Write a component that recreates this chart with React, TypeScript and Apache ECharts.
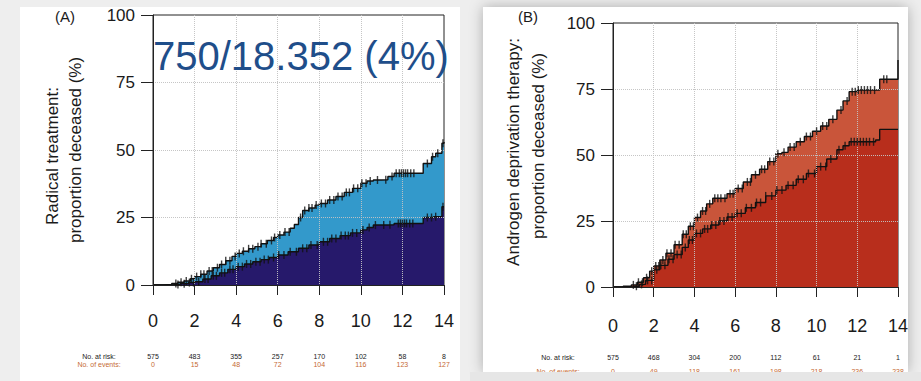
import { useEffect, useRef } from "react";
import * as echarts from "echarts";

// Follow-up years shown on the x axis and under the risk tables
const years = [0, 2, 4, 6, 8, 10, 12, 14];
const yTicks = [0, 25, 50, 75, 100];

// Risk tables
const atRiskA = [575, 483, 355, 257, 170, 102, 58, 8];
const eventsA = [0, 15, 48, 72, 104, 116, 123, 127];
const atRiskB = [575, 468, 304, 200, 112, 61, 21, 1];
const eventsB = [0, 49, 118, 161, 198, 218, 236, 238];

// (A) Radical treatment: cumulative proportion deceased (%), [year, %]
const radicalAll: [number, number][] = [
  [0, 0], [0.5, 0.2], [0.9, 0.6], [1.2, 1.0], [1.5, 1.5], [1.8, 2.3], [2.0, 3.1],
  [2.3, 4.0], [2.6, 5.2], [2.9, 6.4], [3.2, 7.6], [3.5, 9.0], [3.8, 10.6], [4.0, 11.7],
  [4.3, 12.5], [4.6, 13.4], [4.9, 14.2], [5.2, 15.3], [5.5, 16.5], [5.8, 17.6], [6.0, 18.5],
  [6.3, 19.6], [6.6, 21.0], [6.8, 22.4], [7.0, 25.0], [7.2, 27.6], [7.5, 28.5], [7.8, 29.6],
  [8.0, 30.2], [8.4, 31.5], [8.8, 32.8], [9.2, 34.3], [9.6, 35.8], [10.0, 37.7], [10.3, 38.5],
  [10.6, 38.9], [11.0, 39.0], [11.3, 40.2], [11.6, 41.4], [12.8, 41.4], [13.0, 45.0],
  [13.4, 47.5], [13.6, 48.8], [13.9, 52.5], [14, 53.0],
];
const radicalCause: [number, number][] = [
  [0, 0], [0.8, 0.2], [1.3, 0.5], [1.7, 0.9], [2.0, 1.2], [2.4, 2.2], [2.8, 3.4], [3.2, 4.5],
  [3.6, 5.8], [4.0, 6.8], [4.4, 7.8], [4.8, 8.6], [5.2, 9.4], [5.6, 10.2], [6.0, 11.1],
  [6.5, 12.3], [7.0, 13.6], [7.5, 14.8], [8.0, 16.0], [8.5, 17.2], [9.0, 18.3], [9.5, 19.3],
  [10.0, 20.4], [10.3, 21.3], [10.6, 22.2], [11.3, 22.3], [11.6, 22.8], [12.8, 22.8],
  [13.0, 25.0], [13.5, 25.3], [13.9, 29.0], [14, 29.0],
];

// (B) Androgen deprivation therapy: cumulative proportion deceased (%), [year, %]
const adtAll: [number, number][] = [
  [0, 0], [0.5, 0.3], [0.9, 0.8], [1.2, 1.8], [1.5, 3.5], [1.8, 6.0], [2.0, 8.0], [2.3, 10.2],
  [2.6, 12.8], [3.0, 16.0], [3.4, 20.0], [3.7, 23.0], [4.0, 26.3], [4.3, 28.8], [4.6, 31.5],
  [4.9, 33.6], [5.3, 33.6], [5.6, 35.3], [6.0, 37.3], [6.4, 39.8], [6.8, 42.5], [7.2, 44.6],
  [7.6, 47.5], [8.0, 50.5], [8.3, 51.0], [8.6, 53.0], [9.0, 55.0], [9.4, 57.0], [9.8, 59.0],
  [10.2, 61.0], [10.6, 63.5], [11.0, 67.0], [11.3, 70.5], [11.6, 74.0], [12.0, 74.6],
  [13.0, 74.6], [13.1, 78.7], [14, 78.7], [14, 86.0],
];
const adtCause: [number, number][] = [
  [0, 0], [1.0, 0.3], [1.3, 1.0], [1.6, 2.5], [2.0, 6.5], [2.3, 8.2], [2.7, 10.5], [3.0, 12.3],
  [3.4, 15.0], [3.7, 17.8], [4.0, 20.3], [4.4, 22.0], [4.8, 23.5], [5.2, 25.0], [5.6, 26.5],
  [6.0, 27.9], [6.5, 30.0], [7.0, 32.0], [7.5, 34.5], [8.0, 36.7], [8.5, 38.5], [9.0, 40.8],
  [9.5, 43.0], [10.0, 45.6], [10.5, 48.5], [11.0, 52.0], [11.3, 53.5], [11.6, 55.0],
  [12.9, 55.7], [13.1, 59.7], [14, 59.7],
];

// Censoring times (years) drawn as tick marks on each curve
const censorRadicalAll = [
  1.1, 1.35, 1.6, 1.85, 2.1, 2.3, 2.45, 2.7, 2.85, 3.1, 3.3, 3.5, 3.7, 3.95, 4.15, 4.35, 4.6,
  4.8, 5.05, 5.2, 5.45, 5.7, 5.85, 6.1, 6.35, 6.55, 7.1, 7.3, 7.5, 7.65, 7.85, 8.1, 8.3, 8.5,
  8.7, 8.9, 9.1, 9.3, 9.45, 9.65, 9.85, 10.05, 10.25, 10.45, 10.8, 11.2, 11.5, 11.7, 11.85,
  11.95, 12.05, 12.15, 12.25, 12.4, 12.55, 13.2, 13.45, 13.7, 13.95,
];
const censorRadicalCause = [
  1.2, 1.5, 1.75, 1.95, 2.2, 2.5, 2.65, 2.9, 3.05, 3.3, 3.45, 3.7, 3.85, 4.1, 4.3, 4.5, 4.7,
  4.95, 5.15, 5.35, 5.55, 5.8, 6.05, 6.3, 6.6, 6.9, 7.2, 7.4, 7.6, 7.9, 8.2, 8.4, 8.6, 8.8,
  9.05, 9.25, 9.4, 9.6, 9.8, 10.1, 10.4, 10.7, 11.1, 11.4, 11.8, 11.9, 12.0, 12.1, 12.2,
  12.35, 12.5, 13.2, 13.4, 13.6, 13.95,
];
const censorAdtAll = [
  1.0, 1.25, 1.45, 1.65, 1.9, 2.1, 2.25, 2.45, 2.65, 2.85, 3.05, 3.25, 3.45, 3.6, 3.8, 3.95,
  4.15, 4.4, 4.55, 4.75, 5.0, 5.15, 5.3, 5.5, 5.75, 5.9, 6.15, 6.35, 6.6, 6.75, 7.0, 7.3,
  7.45, 7.7, 7.9, 8.1, 8.4, 8.7, 8.9, 9.2, 9.5, 9.7, 10.0, 10.3, 10.5, 10.8, 11.2, 11.5,
  11.75, 11.9, 12.05, 12.2, 12.35, 12.5, 12.65, 12.85, 13.3, 13.45,
];
const censorAdtCause = [
  1.15, 1.4, 1.7, 1.9, 2.15, 2.35, 2.55, 2.75, 2.95, 3.15, 3.35, 3.55, 3.75, 3.9, 4.1, 4.3,
  4.5, 4.65, 4.85, 5.05, 5.25, 5.45, 5.65, 5.85, 6.1, 6.3, 6.55, 6.8, 7.05, 7.25, 7.5, 7.8,
  8.05, 8.3, 8.6, 8.85, 9.1, 9.35, 9.6, 9.9, 10.2, 10.45, 10.7, 11.1, 11.4, 11.7, 11.85,
  12.0, 12.15, 12.3, 12.45, 12.6, 12.8,
];

const FONT = "'Liberation Sans', Arial, Helvetica, sans-serif";
const AXIS = "#222222";
const GRIDLINE = "rgba(195,195,195,0.95)";
const NAVY = "#26196b";
const SKY = "#3399cb";
const RED_DARK = "#b82e1c";
const RED_LIGHT = "#c9553a";
const EVENT_COLOR = "#c66a34";

// Value of a step curve at time t (last value reached at or before t)
const stepAt = (curve: [number, number][], t: number) => {
  let v = 0;
  for (const [x, y] of curve) if (x <= t) v = y;
  return v;
};

const mainX = (gridIndex: number, margin: number) => ({
  type: "value",
  gridIndex,
  min: years[0],
  max: years[years.length - 1],
  interval: 2,
  z: 5,
  position: "bottom",
  axisLine: { show: true, onZero: false, lineStyle: { color: AXIS, width: 1 } },
  axisTick: { show: true, length: 10, lineStyle: { color: AXIS, width: 1 } },
  axisLabel: { fontSize: 18, color: "#1a1a1a", margin, fontFamily: FONT },
  splitLine: {
    show: true,
    showMinLine: false,
    showMaxLine: false,
    lineStyle: { type: "dotted", color: GRIDLINE, width: 1 },
  },
});

const riskX = (gridIndex: number, offset: number, values: number[], color: string) => ({
  type: "value",
  gridIndex,
  min: years[0],
  max: years[years.length - 1],
  interval: 2,
  offset,
  position: "bottom",
  z: 5,
  axisLine: { show: false, onZero: false },
  axisTick: { show: false },
  splitLine: { show: false },
  axisLabel: {
    margin: 0,
    fontSize: 7,
    color,
    fontFamily: FONT,
    formatter: (v: number) => String(values[years.indexOf(v)]),
  },
});

const mainY = (gridIndex: number) => ({
  type: "value",
  gridIndex,
  min: yTicks[0],
  max: yTicks[yTicks.length - 1],
  interval: 25,
  z: 5,
  axisLine: { show: true, onZero: false, lineStyle: { color: AXIS, width: 1 } },
  axisTick: { show: true, length: 12, lineStyle: { color: AXIS, width: 1 } },
  axisLabel: { fontSize: 17, color: "#1a1a1a", margin: 18, fontFamily: FONT },
  splitLine: {
    show: true,
    showMinLine: false,
    showMaxLine: false,
    lineStyle: { type: "dotted", color: GRIDLINE, width: 1 },
  },
});

const curveSeries = (
  data: [number, number][],
  xAxisIndex: number,
  yAxisIndex: number,
  fill: string,
  z: number
) => ({
  type: "line",
  xAxisIndex,
  yAxisIndex,
  data,
  step: "end",
  symbol: "none",
  z,
  lineStyle: { color: "#111111", width: 1.4 },
  areaStyle: { color: fill, opacity: 1 },
});

const censorSeries = (
  curve: [number, number][],
  times: number[],
  xAxisIndex: number,
  yAxisIndex: number
) => ({
  type: "scatter",
  xAxisIndex,
  yAxisIndex,
  z: 6,
  symbol: "rect",
  symbolSize: [1.4, 8],
  itemStyle: { color: "#111111" },
  data: times.map((t) => [t, stepAt(curve, t)]),
});

const rotatedLabel = (text: string, x: number, y: number) => ({
  type: "text",
  x,
  y,
  rotation: Math.PI / 2,
  z: 10,
  style: {
    text,
    fontSize: 17,
    fontFamily: FONT,
    fill: "#1a1a1a",
    align: "center",
    verticalAlign: "middle",
  },
});

const plainText = (
  text: string,
  x: number,
  y: number,
  fontSize: number,
  fill: string,
  align = "center"
) => ({
  type: "text",
  x,
  y,
  z: 10,
  style: { text, fontSize, fontFamily: FONT, fill, align, verticalAlign: "middle" },
});

const option = {
  animation: false,
  backgroundColor: "#eeeeee",
  textStyle: { fontFamily: FONT },
  grid: [
    { left: 153, top: 15, width: 291, height: 270, show: true, backgroundColor: "#ffffff", borderColor: AXIS, borderWidth: 1, z: 1 },
    { left: 613, top: 23, width: 285, height: 264, show: true, backgroundColor: "#ffffff", borderColor: AXIS, borderWidth: 1, z: 1 },
  ],
  xAxis: [
    mainX(0, 27),
    mainX(1, 30),
    riskX(0, 67.5, atRiskA, "#1a1a1a"),
    riskX(0, 75.5, eventsA, EVENT_COLOR),
    riskX(1, 66.5, atRiskB, "#1a1a1a"),
    riskX(1, 80.5, eventsB, EVENT_COLOR),
  ],
  yAxis: [mainY(0), mainY(1)],
  series: [
    curveSeries(radicalAll, 0, 0, SKY, 2),
    curveSeries(radicalCause, 0, 0, NAVY, 3),
    censorSeries(radicalAll, censorRadicalAll, 0, 0),
    censorSeries(radicalCause, censorRadicalCause, 0, 0),
    curveSeries(adtAll, 1, 1, RED_LIGHT, 2),
    curveSeries(adtCause, 1, 1, RED_DARK, 3),
    censorSeries(adtAll, censorAdtAll, 1, 1),
    censorSeries(adtCause, censorAdtCause, 1, 1),
  ],
  graphic: [
    // panel cards
    { type: "rect", z: -100, shape: { x: 20, y: 7, width: 440, height: 380 }, style: { fill: "#ffffff" } },
    {
      type: "rect",
      z: -100,
      shape: { x: 483, y: 7, width: 425, height: 365 },
      style: { fill: "#ffffff", shadowBlur: 14, shadowColor: "rgba(0,0,0,0.28)" },
    },
    // panel letters
    plainText("(A)", 65, 16, 15, "#1a1a1a"),
    plainText("(B)", 528, 16, 15, "#1a1a1a"),
    // axis titles
    rotatedLabel("Radical treatment:", 52, 156),
    rotatedLabel("proportion deceased (%)", 75, 150),
    rotatedLabel("Androgen deprivation therapy:", 513, 152),
    rotatedLabel("proportion deceased (%)", 538, 146),
    // risk table row headers
    plainText("No. at risk:", 99, 356, 7, "#1a1a1a"),
    plainText("No. of events:", 99, 364, 7, EVENT_COLOR),
    plainText("No. at risk:", 558, 357, 7, "#1a1a1a"),
    plainText("No. of events:", 558, 371, 7, EVENT_COLOR),
    // lower edge of the (B) card
    { type: "rect", z: 100, shape: { x: 470, y: 372, width: 451, height: 9 }, style: { fill: "#e6e6e6" } },
    // headline figure
    {
      type: "text",
      x: 153,
      y: 56,
      z: 20,
      style: {
        text: "750/18.352 (4%)",
        fontSize: 40,
        fontFamily: FONT,
        fill: "#1f4e8a",
        align: "left",
        verticalAlign: "middle",
      },
    },
  ],
};

export default function App() {
  const ref = useRef<HTMLDivElement>(null);
  useEffect(() => {
    const chart = echarts.init(ref.current!, null, { renderer: "svg" });
    chart.setOption(option as any);
    return () => chart.dispose();
  }, []);
  return (
    <div
      ref={ref}
      style={{ position: "fixed", left: 0, top: 0, width: 921, height: 381 }}
    />
  );
}
